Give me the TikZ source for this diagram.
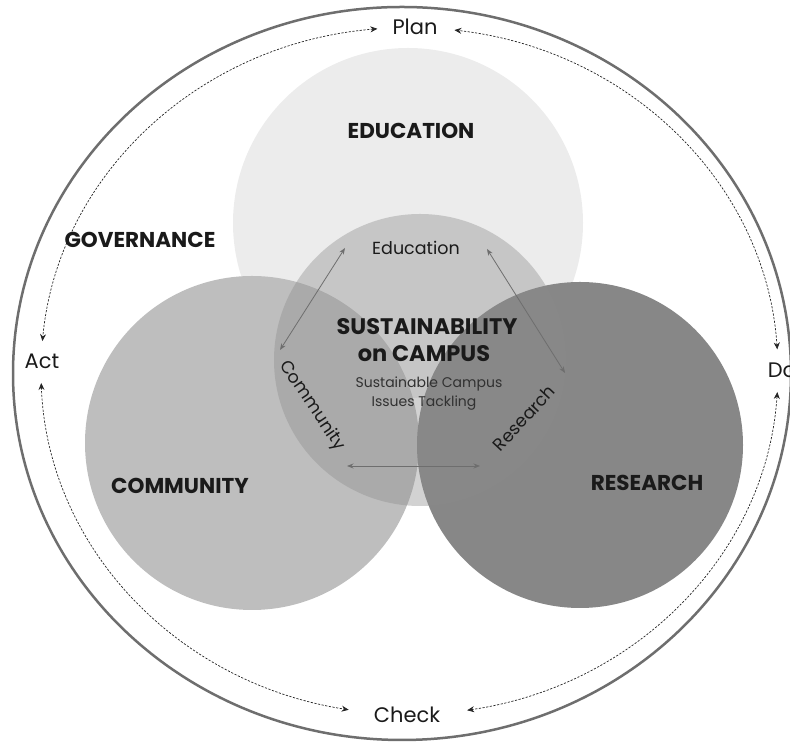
\documentclass[tikz,border=0pt]{standalone}
\usepackage{fontspec}
\setmainfont{Poppins}
\usetikzlibrary{arrows.meta}
\definecolor{outerc}{HTML}{6E6E6E}
\definecolor{educ}{HTML}{ECECEC}
\definecolor{commc}{HTML}{BEBEBE}
\definecolor{resc}{HTML}{878787}
\definecolor{overc}{HTML}{8A8A8A}
\definecolor{txt}{HTML}{1A1A1A}
\definecolor{arrc}{HTML}{6E6E6E}
\begin{document}
\begin{tikzpicture}[x=1pt,y=1pt,
  cyc/.style={draw=black!85, line width=0.7pt, dash pattern=on 2.2pt off 1.5pt,
    {Stealth[length=7pt,width=6pt]}-{Stealth[length=7pt,width=6pt]}},
  inarr/.style={draw=arrc, line width=0.8pt,
    {Stealth[length=6.5pt,width=5pt]}-{Stealth[length=6.5pt,width=5pt]}},
  pdca/.style={text=txt, font=\fontsize{21}{23}\selectfont, inner sep=0pt},
  head/.style={text=txt, font=\fontsize{21.5}{23}\selectfont\bfseries, inner sep=0pt},
  lbl/.style={text=txt, font=\fontsize{17.5}{19}\selectfont, inner sep=0pt},
  small/.style={text=txt!90, font=\fontsize{14}{16}\selectfont, inner sep=0pt}]
\useasboundingbox (0,0) rectangle (790,743);
% outer ring
\draw[outerc, line width=2.5pt] (402,369.5) ellipse [x radius=389, y radius=366.5];
% circles
\fill[educ] (408,520) circle (175);
\fill[commc] (252,300) circle (167);
\fill[resc] (580,298) circle (163);
\fill[overc, fill opacity=0.38] (420,383) circle (146);
% PDCA labels
\node[pdca] (plan) at (415,716) {Plan};
\node[pdca] (act) at (42,382) {Act};
\node[pdca] (do) at (782,373) {Do};
\node[pdca] (check) at (407,28) {Check};
% dashed cycle
\coordinate (dc) at (409.5,372);
\path (dc) ++(95:368.5 and 343.5) coordinate (p1);
\path (dc) ++(182:368.5 and 343.5) coordinate (a2);
\path (dc) ++(279:368.5 and 343.5) coordinate (c2);
\path (dc) ++(3.6:368.5 and 343.5) coordinate (d1);
\draw[cyc] (p1) arc[start angle=95, end angle=175, x radius=368.5, y radius=343.5];
\draw[cyc] (a2) arc[start angle=182, end angle=260.5, x radius=368.5, y radius=343.5];
\draw[cyc] (c2) arc[start angle=279, end angle=356.5, x radius=368.5, y radius=343.5];
\draw[cyc] (d1) arc[start angle=3.6, end angle=83, x radius=368.5, y radius=343.5];
% headings
\node[head] (edu) at (411,612) {EDUCATION};
\node[head] (gov) at (140,503) {GOVERNANCE};
\node[head] (com) at (180,257) {COMMUNITY};
\node[head] (res) at (647,260) {RESEARCH};
% centre
\node[lbl] (iedu) at (416,495) {Education};
\node[head, font=\fontsize{22.5}{24}\selectfont\bfseries] (sus) at (427,416) {SUSTAINABILITY};
\node[head, font=\fontsize{22.5}{24}\selectfont\bfseries] (onc) at (424,389) {on CAMPUS};
\node[small] (sc) at (429,359) {Sustainable Campus};
\node[small] (it) at (424,340) {Issues Tackling};
\node[lbl, rotate=-56] (icom) at (312,337) {Community};
\node[lbl, rotate=47] (ires) at (524,325) {Research};
% inner arrows
\coordinate (l1) at (345,495);
\coordinate (l2) at (280,393);
\coordinate (r1) at (487,494);
\coordinate (r2) at (565,370);
\coordinate (b1) at (347,277);
\coordinate (b2) at (480,277);
\draw[inarr] (l1) -- (l2);
\draw[inarr] (r1) -- (r2);
\draw[inarr] (b1) -- (b2);
\end{tikzpicture}
\end{document}
